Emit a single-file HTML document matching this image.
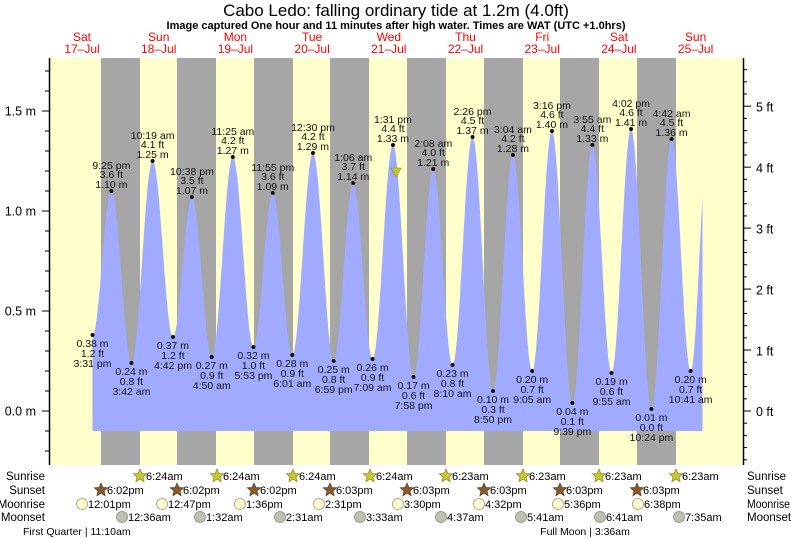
<!DOCTYPE html>
<html><head><meta charset="utf-8"><style>
html,body{margin:0;padding:0;background:#fff;}
svg{display:block;font-family:"Liberation Sans",sans-serif;}
</style></head><body>
<svg id="s" width="793" height="539" xmlns="http://www.w3.org/2000/svg">
<rect x="0" y="0" width="793" height="539" fill="#fff"/>
<rect x="50" y="58" width="693" height="407" fill="#ffffcc"/>
<g id="bands" fill="#a6a6a6"></g>
<path id="tide" fill="#a0aaff"/>
<g id="lbl" font-size="10.5" fill="#111" text-anchor="middle"></g>
<polygon points="391,168 401,168 396,177" fill="#c8c832" stroke="#888800" stroke-width="0.6"/>
<line x1="49.5" y1="58" x2="49.5" y2="465" stroke="#000" stroke-width="1.5"/>
<line x1="743.5" y1="58" x2="743.5" y2="465" stroke="#000" stroke-width="1.5"/>
<g id="ticks" stroke="#000" stroke-width="1"></g>
<g font-size="12.5" fill="#000">
<text x="36" y="115.5" text-anchor="end">1.5 m</text>
<text x="36" y="215.5" text-anchor="end">1.0 m</text>
<text x="36" y="315.5" text-anchor="end">0.5 m</text>
<text x="36" y="415.5" text-anchor="end">0.0 m</text>
<text x="756" y="111.5">5 ft</text>
<text x="756" y="172.5">4 ft</text>
<text x="756" y="233.5">3 ft</text>
<text x="756" y="294.5">2 ft</text>
<text x="756" y="355.5">1 ft</text>
<text x="756" y="416">0 ft</text>
</g>
<text x="396" y="16" font-size="17" text-anchor="middle" fill="#000">Cabo Ledo: falling  ordinary tide at 1.2m (4.0ft)</text>
<text x="396" y="29" font-size="11" font-weight="bold" text-anchor="middle" fill="#000">Image captured One hour and 11 minutes after high water. Times are WAT (UTC +1.0hrs)</text>
<g id="days" font-size="12" fill="#ff0000" text-anchor="middle"></g>
<g font-size="11.5" fill="#000">
<text x="45" y="480" text-anchor="end">Sunrise</text>
<text x="45" y="494" text-anchor="end">Sunset</text>
<text x="45" y="508" text-anchor="end">Moonrise</text>
<text x="45" y="521" text-anchor="end">Moonset</text>
<text x="747" y="480">Sunrise</text>
<text x="747" y="494">Sunset</text>
<text x="747" y="508" textLength="43" lengthAdjust="spacingAndGlyphs">Moonrise</text>
<text x="747" y="521">Moonset</text>
</g>
<g id="astro" font-size="11" fill="#000"></g>
<text x="23" y="535" font-size="10.5" fill="#000">First Quarter | 11:10am</text>
<text x="585" y="535" font-size="10.5" fill="#000" text-anchor="middle">Full Moon | 3:36am</text>
</svg>
<script>
var NS="http://www.w3.org/2000/svg";
function el(p,t,a,txt){var e=document.createElementNS(NS,t);for(var k in a)e.setAttribute(k,a[k]);if(txt!=null)e.textContent=txt;document.getElementById(p).appendChild(e);return e;}
var X0=42.9,K=3.196;
function X(t){return X0+t*K;}
function Y(h){return 411-h*200;}
[101,177,254,330,407,484,560,637].forEach(function(x){el("bands","rect",{x:x,y:58,width:39,height:407});});
var dn=[["Sat","17–Jul"],["Sun","18–Jul"],["Mon","19–Jul"],["Tue","20–Jul"],["Wed","21–Jul"],["Thu","22–Jul"],["Fri","23–Jul"],["Sat","24–Jul"],["Sun","25–Jul"]];
dn.forEach(function(d,i){var x=82+i*76.7;el("days","text",{x:x,y:41},d[0]);el("days","text",{x:x,y:53},d[1]);});
for(var h=-0.2;h<=1.75;h+=0.1){var y=Y(h);var maj=Math.abs(h*2-Math.round(h*2))<0.01;el("ticks","line",{x1:maj?42:45,y1:y,x2:50,y2:y});}
for(var f=-1.4;f<=5.8;f+=0.2){var y=411-f*60.96;if(y<58||y>465)continue;var maj=Math.abs(f-Math.round(f))<0.01;el("ticks","line",{x1:743,y1:y,x2:maj?751:747,y2:y});}
var E=[[15.52,0.38,"3:31 pm","1.2 ft"],[21.42,1.10,"9:25 pm","3.6 ft"],[27.7,0.24,"3:42 am","0.8 ft"],[34.32,1.25,"10:19 am","4.1 ft"],[40.7,0.37,"4:42 pm","1.2 ft"],[46.63,1.07,"10:38 pm","3.5 ft"],[52.83,0.27,"4:50 am","0.9 ft"],[59.42,1.27,"11:25 am","4.2 ft"],[65.88,0.32,"5:53 pm","1.0 ft"],[71.92,1.09,"11:55 pm","3.6 ft"],[78.02,0.28,"6:01 am","0.9 ft"],[84.5,1.29,"12:30 pm","4.2 ft"],[90.98,0.25,"6:59 pm","0.8 ft"],[97.1,1.14,"1:06 am","3.7 ft"],[103.15,0.26,"7:09 am","0.9 ft"],[109.52,1.33,"1:31 pm","4.4 ft"],[115.97,0.17,"7:58 pm","0.6 ft"],[122.13,1.21,"2:08 am","4.0 ft"],[128.17,0.23,"8:10 am","0.8 ft"],[134.43,1.37,"2:26 pm","4.5 ft"],[140.83,0.10,"8:50 pm","0.3 ft"],[147.07,1.28,"3:04 am","4.2 ft"],[153.08,0.20,"9:05 am","0.7 ft"],[159.27,1.40,"3:16 pm","4.6 ft"],[165.65,0.04,"9:39 pm","0.1 ft"],[171.92,1.33,"3:55 am","4.4 ft"],[177.92,0.19,"9:55 am","0.6 ft"],[184.03,1.41,"4:02 pm","4.6 ft"],[190.4,0.01,"10:24 pm","0.0 ft"],[196.7,1.36,"4:42 am","4.5 ft"],[202.68,0.20,"10:41 am","0.7 ft"]];
var tEnd=206.4;
var pts=[];
for(var i=0;i<E.length;i++){
 var a=E[i],b=E[i+1]||[208.2,1.36];
 for(var t=a[0];t<b[0]&&t<=tEnd;t+=0.1){var u=(t-a[0])/(b[0]-a[0]);var h=a[1]+(b[1]-a[1])*(1-Math.cos(Math.PI*u))/2;pts.push([X(t),Y(h)]);}
}
var d="M"+X(E[0][0])+","+Y(-0.1)+" L"+X(E[0][0])+","+Y(E[0][1]);
pts.forEach(function(p){d+=" L"+p[0].toFixed(1)+","+p[1].toFixed(1);});
d+=" L"+pts[pts.length-1][0].toFixed(1)+","+Y(-0.1)+" Z";
document.getElementById("tide").setAttribute("d",d);
E.forEach(function(e){var x=X(e[0]),y=Y(e[1]);var m=e[1].toFixed(2)+" m";
 el("lbl","circle",{cx:x,cy:y,r:2});
 if(e[1]>0.6){el("lbl","text",{x:x,y:y-3},m);el("lbl","text",{x:x,y:y-13},e[3]);el("lbl","text",{x:x,y:y-22},e[2]);}
 else{el("lbl","text",{x:x,y:y+12},m);el("lbl","text",{x:x,y:y+22},e[3]);el("lbl","text",{x:x,y:y+32},e[2]);}
});
function star(cx,cy,r,fill,stroke){var p=[];for(var k=0;k<10;k++){var ang=-Math.PI/2+k*Math.PI/5;var rr=k%2?r*0.45:r;p.push((cx+rr*Math.cos(ang)).toFixed(1)+","+(cy+rr*Math.sin(ang)).toFixed(1));}el("astro","polygon",{points:p.join(" "),fill:fill,stroke:stroke,"stroke-width":0.7});}
var sr=[140,217,293,370,446,523,599,676],srT=["6:24am","6:24am","6:24am","6:24am","6:23am","6:23am","6:23am","6:23am"];
sr.forEach(function(x,i){star(x,476,7,"#c8c832","#888820");el("astro","text",{x:x+6,y:480},srT[i]);});
var ss=[101,177,254,330,407,484,560,637],ssT=["6:02pm","6:02pm","6:02pm","6:03pm","6:03pm","6:03pm","6:03pm","6:03pm"];
ss.forEach(function(x,i){star(x,490,7,"#8b5a2b","#5a3a1a");el("astro","text",{x:x+6,y:494},ssT[i]);});
var mr=[82,162,240,319,398,479,558,638],mrT=["12:01pm","12:47pm","1:36pm","2:31pm","3:30pm","4:32pm","5:36pm","6:38pm"];
mr.forEach(function(x,i){el("astro","circle",{cx:x,cy:504,r:5.5,fill:"#ffffcc",stroke:"#999","stroke-width":0.8});el("astro","text",{x:x+6,y:508},mrT[i]);});
var ms=[122,200,280,360,441,521,600,679],msT=["12:36am","1:32am","2:31am","3:33am","4:37am","5:41am","6:41am","7:35am"];
ms.forEach(function(x,i){el("astro","circle",{cx:x,cy:517,r:5.5,fill:"#c0c0b0",stroke:"#888","stroke-width":0.8});el("astro","text",{x:x+6,y:521},msT[i]);});
</script>
</body></html>
